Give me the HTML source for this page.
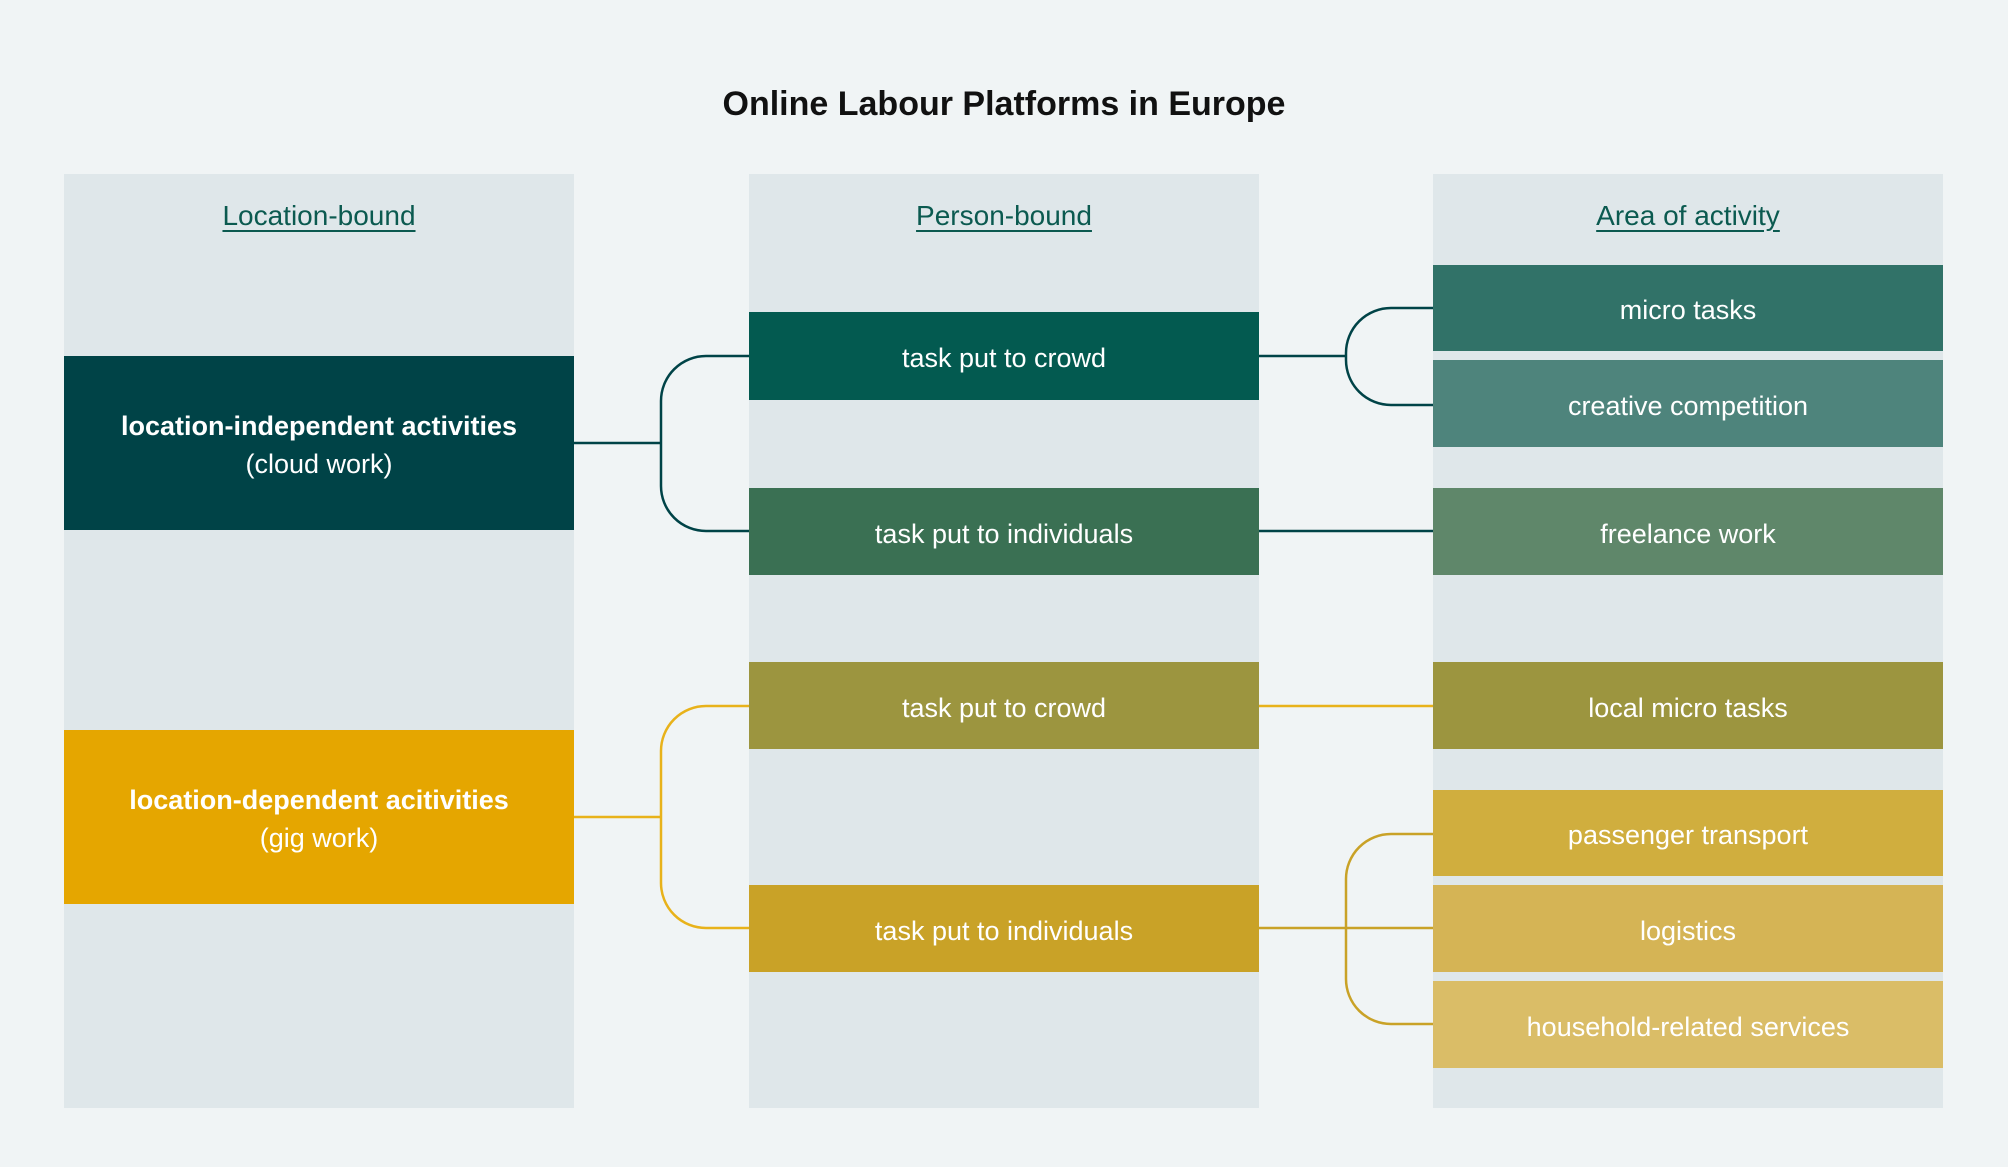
<!DOCTYPE html>
<html><head><meta charset="utf-8"><style>
body{margin:0;width:2008px;height:1167px;background:#f0f4f5;font-family:"Liberation Sans",sans-serif;position:relative;overflow:hidden}
.col{position:absolute;top:174px;height:934px;width:510px;background:#dfe7ea}
.h{position:absolute;top:200px;width:510px;text-align:center;font-size:28px;color:#0b5a50;text-decoration:underline;text-underline-offset:5px}
.b{position:absolute;width:510px;display:flex;flex-direction:column;align-items:center;justify-content:center;color:#fff;font-size:27px;line-height:1.4;box-sizing:border-box;padding-top:6px}
svg{position:absolute;left:0;top:0}
</style></head><body>
<div style="position:absolute;top:85px;width:2008px;text-align:center;font-size:34px;font-weight:bold;color:#111">Online Labour Platforms in Europe</div>
<div class="col" style="left:64px"></div><div class="col" style="left:749px"></div><div class="col" style="left:1433px"></div>
<div class="h" style="left:64px">Location-bound</div>
<div class="h" style="left:749px">Person-bound</div>
<div class="h" style="left:1433px">Area of activity</div>
<div class="b" style="left:64px;top:356px;height:174px;background:#004347"><b>location-independent activities</b><span>(cloud work)</span></div>
<div class="b" style="left:64px;top:730px;height:174px;background:#e5a600"><b>location-dependent acitivities</b><span>(gig work)</span></div>
<div class="b" style="left:749px;top:312px;height:88px;background:#035a50">task put to crowd</div>
<div class="b" style="left:749px;top:488px;height:87px;background:#3a7053">task put to individuals</div>
<div class="b" style="left:749px;top:662px;height:87px;background:#9c953f">task put to crowd</div>
<div class="b" style="left:749px;top:885px;height:87px;background:#c9a227">task put to individuals</div>
<div class="b" style="left:1433px;top:265px;height:86px;background:#317268">micro tasks</div>
<div class="b" style="left:1433px;top:360px;height:87px;background:#4e847c">creative competition</div>
<div class="b" style="left:1433px;top:488px;height:87px;background:#5f876a">freelance work</div>
<div class="b" style="left:1433px;top:662px;height:87px;background:#9c953f">local micro tasks</div>
<div class="b" style="left:1433px;top:790px;height:86px;background:#d0ae3e">passenger transport</div>
<div class="b" style="left:1433px;top:885px;height:87px;background:#d5b455">logistics</div>
<div class="b" style="left:1433px;top:981px;height:87px;background:#dabd67">household-related services</div>
<svg width="2008" height="1167" fill="none" stroke-width="2.5">
<g stroke="#004347">
<path d="M574 443H661"/>
<path d="M749 356H706A45 45 0 0 0 661 401V486A45 45 0 0 0 706 531H749"/>
<path d="M1259 356H1346"/>
<path d="M1433 308H1391A45 45 0 0 0 1346 353V360A45 45 0 0 0 1391 405H1433"/>
<path d="M1259 531H1433"/>
</g>
<g stroke="#e8b21a">
<path d="M574 817H661"/>
<path d="M749 706H706A45 45 0 0 0 661 751V883A45 45 0 0 0 706 928H749"/>
<path d="M1259 706H1433"/>
</g>
<g stroke="#c9a227">
<path d="M1259 928H1433"/>
<path d="M1433 834H1391A45 45 0 0 0 1346 879V979A45 45 0 0 0 1391 1024H1433"/>
</g>
</svg>
</body></html>
